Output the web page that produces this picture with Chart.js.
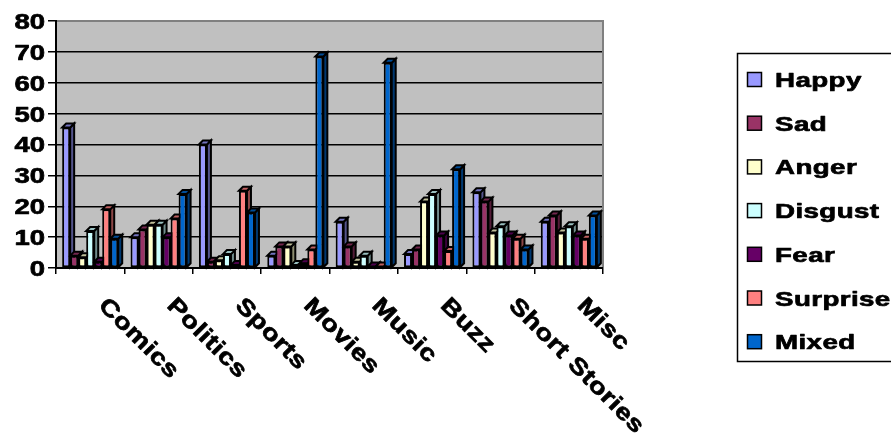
<!DOCTYPE html>
<html>
<head>
<meta charset="utf-8">
<script src="https://cdn.jsdelivr.net/npm/chart.js@4.4.1/dist/chart.umd.min.js"></script>
<style>
  html, body { margin: 0; padding: 0; background: #ffffff; }
  #wrap { width: 891px; height: 439px; }
</style>
</head>
<body>
<div id="wrap"><canvas id="c" width="891" height="439"></canvas></div>
<script>
// Post counts per category, one list per emotion
const categories = ['Comics', 'Politics', 'Sports', 'Movies', 'Music', 'Buzz', 'Short Stories', 'Misc'];
const happy    = [45.5, 10, 40, 4, 15, 4.5, 24.5, 15];
const sad      = [4, 12.5, 2, 7, 7, 6, 21.5, 17];
const anger    = [3.5, 14, 2.5, 7, 2, 21.5, 11.5, 11.5];
const disgust  = [12, 14, 4.5, 1, 4, 24, 13.5, 13.5];
const fear     = [2, 10, 1, 1.5, 0.5, 10.5, 10.5, 10.5];
const surprise = [19, 16, 25, 6, 0.5, 5.5, 9.5, 9.5];
const mixed    = [9.5, 24, 18, 68.5, 66.5, 32, 6, 17];
const yTickValues = [0, 10, 20, 30, 40, 50, 60, 70, 80];

const seriesNames  = ['Happy', 'Sad', 'Anger', 'Disgust', 'Fear', 'Surprise', 'Mixed'];
const seriesData   = [happy, sad, anger, disgust, fear, surprise, mixed];
const seriesColors = ['#9999FF', '#993366', '#FFFFCC', '#CCFFFF', '#660066', '#FF8080', '#0066CC'];

const FONT = '"Liberation Sans", Arial, sans-serif';
const DEPTH = 4;

function shade(hex, f) {
  const n = parseInt(hex.slice(1), 16);
  const r = Math.round(((n >> 16) & 255) * f);
  const g = Math.round(((n >> 8) & 255) * f);
  const b = Math.round((n & 255) * f);
  return 'rgb(' + r + ',' + g + ',' + b + ')';
}

// Draws widened, heavy bold text
function wideText(ctx, str, x, y, size, sx, spacing, align) {
  ctx.save();
  ctx.font = 'bold ' + size + 'px ' + FONT;
  ctx.letterSpacing = spacing + 'px';
  ctx.fillStyle = '#000';
  ctx.strokeStyle = '#000';
  ctx.lineWidth = 0.7;
  ctx.lineJoin = 'round';
  ctx.textBaseline = 'alphabetic';
  ctx.translate(x, y);
  ctx.scale(sx, 1);
  let ox = 0;
  if (align === 'right') {
    ox = -(ctx.measureText(str).width - spacing);
  }
  ctx.fillText(str, ox, 0);
  ctx.strokeText(str, ox, 0);
  ctx.restore();
}

// Grey back wall behind the grid
const wallPlugin = {
  id: 'wall',
  beforeDraw(chart) {
    const {ctx, chartArea: a} = chart;
    ctx.save();
    ctx.fillStyle = '#C0C0C0';
    ctx.fillRect(a.left, a.top, a.right - a.left, a.bottom - a.top);
    ctx.restore();
  },
  beforeDatasetsDraw(chart) {
    const {ctx, chartArea: a} = chart;
    ctx.save();
    ctx.strokeStyle = '#808080';
    ctx.lineWidth = 2;
    ctx.beginPath();
    ctx.moveTo(a.left + 1, a.top);
    ctx.lineTo(a.right, a.top);
    ctx.lineTo(a.right, a.bottom - 1);
    ctx.stroke();
    ctx.restore();
  }
};

// Side and top faces of each column, painted left to right before the fronts
const depthPlugin = {
  id: 'depth',
  beforeDatasetsDraw(chart) {
    const ctx = chart.ctx;
    ctx.save();
    ctx.lineWidth = 2;
    ctx.strokeStyle = '#000';
    ctx.lineJoin = 'miter';
    for (let j = 0; j < categories.length; j++) {
      for (let i = 0; i < seriesData.length; i++) {
        const el = chart.getDatasetMeta(i).data[j];
        if (!el) continue;
        const p = el.getProps(['x', 'y', 'base', 'width'], true);
        const l = p.x - p.width / 2, r = p.x + p.width / 2;
        const top = Math.min(p.y, p.base), base = Math.max(p.y, p.base);
        const d = DEPTH;
        // right side
        ctx.beginPath();
        ctx.moveTo(r, top);
        ctx.lineTo(r + d, top - d);
        ctx.lineTo(r + d, base - d);
        ctx.lineTo(r, base);
        ctx.closePath();
        ctx.fillStyle = shade(seriesColors[i], 0.55);
        ctx.fill();
        ctx.stroke();
        // top
        ctx.beginPath();
        ctx.moveTo(l, top);
        ctx.lineTo(l + d, top - d);
        ctx.lineTo(r + d, top - d);
        ctx.lineTo(r, top);
        ctx.closePath();
        ctx.fillStyle = shade(seriesColors[i], 0.75);
        ctx.fill();
        ctx.stroke();
      }
    }
    ctx.restore();
  }
};

// Axis labels and the framed legend
const textPlugin = {
  id: 'texts',
  afterDraw(chart) {
    const ctx = chart.ctx;
    const ys = chart.scales.y, xs = chart.scales.x;

    // value axis labels
    const ySize = 22;
    yTickValues.forEach(v => {
      const py = ys.getPixelForValue(v);
      wideText(ctx, String(v), 45, py + ySize * 0.716 / 2, ySize, 1.25, 0, 'right');
    });

    // category labels, slanted downwards
    const xSize = 23;
    categories.forEach((name, i) => {
      const cx = xs.getPixelForValue(i);
      ctx.save();
      ctx.translate(cx + 19, 295);
      ctx.rotate(Math.PI / 4);
      wideText(ctx, name, 0, xSize * 0.716, xSize, 1.2, 0.5, 'left');
      ctx.restore();
    });

    // legend
    ctx.save();
    ctx.strokeStyle = '#000';
    ctx.lineWidth = 1.5;
    ctx.strokeRect(737.5, 53.5, 160, 308);
    const lSize = 21;
    seriesNames.forEach((name, i) => {
      const cy = 79.5 + i * 43.7;
      ctx.fillStyle = seriesColors[i];
      ctx.fillRect(747.5, cy - 7, 14, 14);
      ctx.lineWidth = 1.5;
      ctx.strokeRect(747.5, cy - 7, 14, 14);
      wideText(ctx, name, 775, cy + lSize * 0.716 / 2, lSize, 1.32, 0.3, 'left');
    });
    ctx.restore();
  }
};

const datasets = seriesNames.map((name, i) => ({
  label: name,
  data: seriesData[i],
  backgroundColor: seriesColors[i],
  borderColor: '#000000',
  borderWidth: 2,
  borderSkipped: false,
  categoryPercentage: 0.82,
  barPercentage: 1.0
}));

new Chart(document.getElementById('c'), {
  type: 'bar',
  data: { labels: categories, datasets: datasets },
  plugins: [wallPlugin, depthPlugin, textPlugin],
  options: {
    responsive: false,
    animation: false,
    devicePixelRatio: 1,
    layout: { padding: { left: 0, top: 21, right: 288, bottom: 0 } },
    plugins: {
      legend: { display: false },
      tooltip: { enabled: false }
    },
    scales: {
      x: {
        offset: true,
        ticks: { display: false },
        grid: {
          offset: true,
          drawOnChartArea: false,
          drawTicks: true,
          tickLength: 6,
          color: '#000',
          lineWidth: 1.5
        },
        border: { display: true, color: '#000', width: 2 },
        afterFit(scale) { scale.height = 439 - 268; }
      },
      y: {
        min: 0,
        max: 80,
        afterBuildTicks(scale) { scale.ticks = yTickValues.map(v => ({ value: v })); },
        ticks: { display: false },
        grid: {
          color: '#000',
          lineWidth: 1.5,
          drawTicks: true,
          tickLength: 8
        },
        border: { display: true, color: '#000', width: 2 },
        afterFit(scale) { scale.width = 56; }
      }
    }
  }
});
</script>
</body>
</html>
